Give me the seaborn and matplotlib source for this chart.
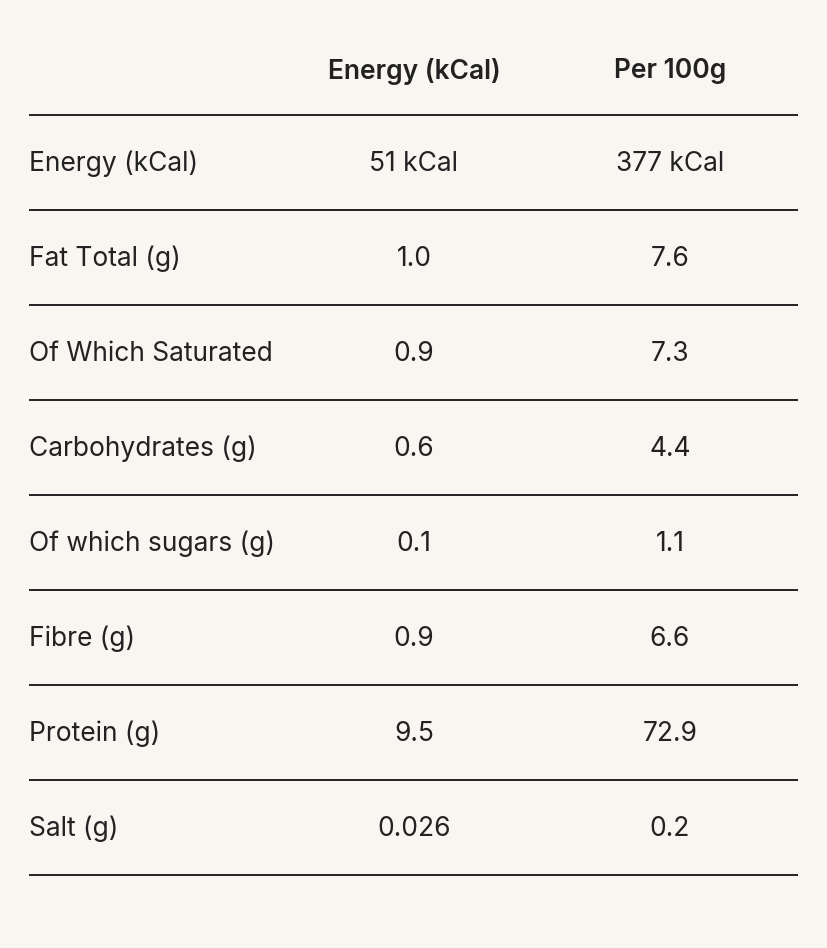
import matplotlib
matplotlib.use('Agg')
import matplotlib.pyplot as plt
import seaborn as sns

# table data
header = ['Energy (kCal)', 'Per 100g']
nutrients = ['Energy (kCal)', 'Fat Total (g)', 'Of Which Saturated', 'Carbohydrates (g)',
             'Of which sugars (g)', 'Fibre (g)', 'Protein (g)', 'Salt (g)']
per_serving = ['51 kCal', '1.0', '0.9', '0.6', '0.1', '0.9', '9.5', '0.026']
per_100g = ['377 kCal', '7.6', '7.3', '4.4', '1.1', '6.6', '72.9', '0.2']

sns.set_theme(style='white')
plt.rcParams['font.family'] = ['Inter', 'DejaVu Sans']

bg = '#f9f6f2'
ink = '#222222'
fs = 19

fig = plt.figure(figsize=(8.28, 9.48), dpi=100, facecolor=bg)
ax = fig.add_axes([0, 0, 1, 1], facecolor=bg)
ax.set_xlim(0, 828)
ax.set_ylim(948, 0)
ax.axis('off')

col_x = [414, 670]
row_h = 95
top_line = 115

for x, h in zip(col_x, header):
    ax.text(x, 71, h, ha='center', va='center', fontsize=fs, fontweight='semibold', color=ink)

for i in range(len(nutrients) + 1):
    y = top_line + i * row_h
    ax.plot([29, 798], [y, y], color=ink, lw=1.4, solid_capstyle='butt')

for i, (name, a, b) in enumerate(zip(nutrients, per_serving, per_100g)):
    y = top_line + row_h / 2 + 1.5 + i * row_h
    ax.text(29, y, name, ha='left', va='center', fontsize=fs, color=ink)
    ax.text(col_x[0], y, a, ha='center', va='center', fontsize=fs, color=ink)
    ax.text(col_x[1], y, b, ha='center', va='center', fontsize=fs, color=ink)

fig.savefig('out.png', dpi=100, facecolor=bg)
